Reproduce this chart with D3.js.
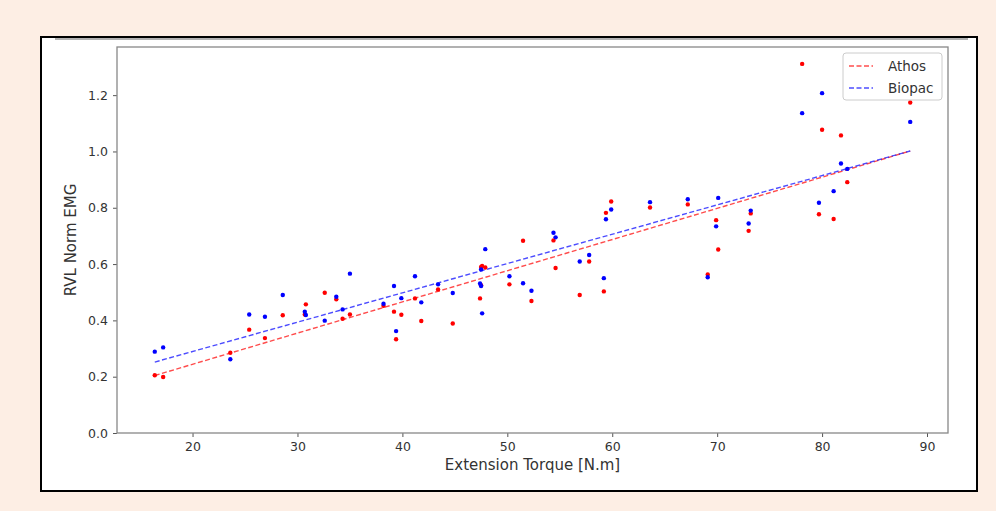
<!DOCTYPE html>
<html>
<head>
<meta charset="utf-8">
<script src="https://cdn.jsdelivr.net/npm/d3@7"></script>
<style>
  body { margin: 0; background: #fdeee4; }
  #frame { position: absolute; left: 40px; top: 36px; width: 934px; height: 452px;
           background: #fff; border: 2px solid #000; }
  svg { position: absolute; left: 0; top: 0; }
  text { font-family: "DejaVu Sans", sans-serif; fill: #333; }
</style>
</head>
<body>
<div id="frame"></div>
<svg id="svg" width="996" height="511"></svg>
<script>
// torque values shared by both sensors
var torque = [16.4, 17.2, 23.6, 25.4, 26.9, 28.6, 30.7, 30.8, 32.6, 33.7, 34.3, 35.0,
  38.2, 39.2, 39.4, 39.9, 41.2, 41.8, 43.4, 44.8, 47.4, 47.5, 47.6, 47.9, 47.5,
  50.2, 51.5, 52.3, 54.4, 54.6, 56.9, 57.8, 59.2, 59.4, 59.9, 63.6, 67.2, 69.1,
  69.9, 70.1, 73.0, 73.2, 78.1, 79.7, 80.0, 81.1, 81.8, 82.4, 88.4];

var athos = [0.205, 0.199, 0.285, 0.367, 0.337, 0.418, 0.421, 0.457, 0.498, 0.475, 0.406, 0.421,
  0.452, 0.431, 0.333, 0.420, 0.478, 0.398, 0.510, 0.389, 0.478, 0.525, 0.593, 0.588, 0.590,
  0.528, 0.683, 0.469, 0.684, 0.586, 0.490, 0.609, 0.503, 0.782, 0.822, 0.801, 0.812, 0.563,
  0.756, 0.652, 0.718, 0.780, 1.311, 0.777, 1.077, 0.760, 1.057, 0.891, 1.174];

var biopac = [0.289, 0.304, 0.262, 0.421, 0.413, 0.490, 0.431, 0.419, 0.399, 0.484, 0.439, 0.566,
  0.459, 0.522, 0.362, 0.479, 0.557, 0.464, 0.528, 0.497, 0.531, 0.522, 0.425, 0.653, 0.581,
  0.557, 0.532, 0.505, 0.711, 0.695, 0.609, 0.632, 0.550, 0.759, 0.794, 0.820, 0.830, 0.553,
  0.734, 0.835, 0.744, 0.790, 1.136, 0.818, 1.207, 0.859, 0.957, 0.938, 1.105];

var xTicks = [20, 30, 40, 50, 60, 70, 80, 90];
var yTicks = [0.0, 0.2, 0.4, 0.6, 0.8, 1.0, 1.2];

var series = [
  {name: "Athos", values: athos, color: "#ff0000"},
  {name: "Biopac", values: biopac, color: "#0000ff"}
];

var svg = d3.select("#svg");
var plot = {left: 117, right: 948, top: 47, bottom: 433};

var xScale = d3.scaleLinear().domain([12.8, 92.0]).range([plot.left, plot.right]);
var yScale = d3.scaleLinear().domain([0, 1.371]).range([plot.bottom, plot.top]);

// grey line along top of white box
svg.append("line").attr("x1", 55).attr("x2", 968).attr("y1", 39).attr("y2", 39)
  .attr("stroke", "#999").attr("stroke-width", 1.5);

var xAxis = svg.append("g")
  .attr("transform", "translate(0," + plot.bottom + ")")
  .call(d3.axisBottom(xScale).tickValues(xTicks).tickSize(4).tickPadding(5).tickFormat(d3.format("d")));
var yAxis = svg.append("g")
  .attr("transform", "translate(" + plot.left + ",0)")
  .call(d3.axisLeft(yScale).tickValues(yTicks).tickSize(4).tickPadding(5).tickFormat(d3.format(".1f")));

[xAxis, yAxis].forEach(function (a) {
  a.select(".domain").remove();
  a.selectAll("line").attr("stroke", "#555");
  a.selectAll("text").attr("font-size", 12.5).attr("fill", "#333")
    .style("font-family", "DejaVu Sans, sans-serif");
});

// box spines
svg.append("rect")
  .attr("x", plot.left).attr("y", plot.top)
  .attr("width", plot.right - plot.left).attr("height", plot.bottom - plot.top)
  .attr("fill", "none").attr("stroke", "#888").attr("stroke-width", 1.3);

// least squares fit per series
function fit(xs, ys) {
  var mx = d3.mean(xs), my = d3.mean(ys);
  var sxy = d3.sum(xs, function (x, i) { return (x - mx) * (ys[i] - my); });
  var sxx = d3.sum(xs, function (x) { return (x - mx) * (x - mx); });
  var b = sxy / sxx;
  return {a: my - b * mx, b: b};
}

var xmin = d3.min(torque), xmax = d3.max(torque);
var line = d3.line().x(function (d) { return xScale(d[0]); }).y(function (d) { return yScale(d[1]); });

series.forEach(function (s) {
  var f = fit(torque, s.values);
  svg.append("path")
    .datum([[xmin, f.a + f.b * xmin], [xmax, f.a + f.b * xmax]])
    .attr("d", line)
    .attr("fill", "none")
    .attr("stroke", s.color)
    .attr("stroke-opacity", 0.7)
    .attr("stroke-width", 1.4)
    .attr("stroke-dasharray", "5,2.5");
});

series.forEach(function (s) {
  svg.append("g").selectAll("circle")
    .data(s.values)
    .enter()
    .append("circle")
    .attr("cx", function (d, i) { return xScale(torque[i]); })
    .attr("cy", function (d) { return yScale(d); })
    .attr("r", 2.2)
    .attr("fill", s.color);
});

// axis labels
svg.append("text")
  .attr("x", (plot.left + plot.right) / 2).attr("y", 470)
  .attr("text-anchor", "middle").attr("font-size", 15)
  .text("Extension Torque [N.m]");
svg.append("text")
  .attr("transform", "translate(76," + ((plot.top + plot.bottom) / 2) + ") rotate(-90)")
  .attr("text-anchor", "middle").attr("font-size", 15)
  .text("RVL Norm EMG");

// legend
var legend = svg.append("g").attr("transform", "translate(843,53)");
legend.append("rect").attr("width", 99).attr("height", 47).attr("rx", 3)
  .attr("fill", "#fff").attr("fill-opacity", 0.8).attr("stroke", "#ccc");
series.forEach(function (s, i) {
  var y = 13 + i * 22;
  legend.append("line").attr("x1", 6).attr("x2", 30).attr("y1", y).attr("y2", y)
    .attr("stroke", s.color).attr("stroke-opacity", 0.7).attr("stroke-width", 1.3)
    .attr("stroke-dasharray", "5,2.5");
  legend.append("text").attr("x", 45).attr("y", y + 5).attr("font-size", 13.5).text(s.name);
});
</script>
</body>
</html>
